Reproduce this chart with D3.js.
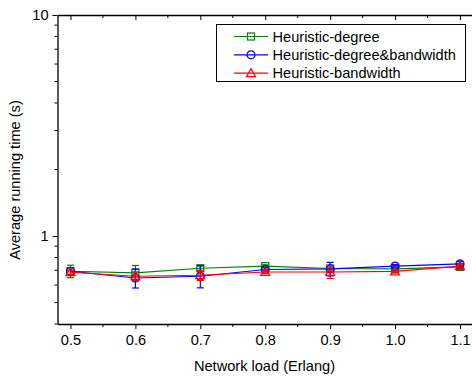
<!DOCTYPE html>
<html><head><meta charset="utf-8">
<script src="https://cdn.jsdelivr.net/npm/d3@7"></script>
<style>body{margin:0;background:#fff}svg{display:block}text{font-family:"Liberation Sans",Arial,sans-serif}</style>
</head><body>
<svg id="c" width="472" height="377"></svg>
<script>
const loads = [0.5, 0.6, 0.7, 0.8, 0.9, 1.0, 1.1];
const xTickLabels = ["0.5","0.6","0.7","0.8","0.9","1.0","1.1"];
const yTickValues = [1, 10];
const seriesNames = ["Heuristic-degree", "Heuristic-degree&bandwidth", "Heuristic-bandwidth"];
const seriesColors = ["#008000", "#0000ff", "#ff0000"];
const seriesMarkers = ["square", "circle", "triangle"];
const degreeVals = [0.693, 0.681, 0.715, 0.731, 0.713, 0.710, 0.725];
const degreeErr  = [0.045, 0.055, 0.020, 0.010, 0.010, 0.010, 0.012];
const bothVals   = [0.693, 0.646, 0.658, 0.706, 0.710, 0.731, 0.748];
const bothErr    = [0.025, 0.064, 0.075, 0.012, 0.050, 0.012, 0.020];
const bwVals     = [0.686, 0.658, 0.665, 0.688, 0.688, 0.692, 0.731];
const bwErr      = [0.015, 0.030, 0.035, 0.012, 0.045, 0.012, 0.015];

const vals = [degreeVals, bothVals, bwVals];
const errs = [degreeErr, bothErr, bwErr];

const FS = 14.6;
const svg = d3.select("#c");
const L = 57.5, R = 473, T = 15, B = 324;
const x = d3.scaleLinear().domain([0.48, 1.12]).range([L, R]);
const y = d3.scaleLog().domain([0.4, 10]).range([B, T]);

const minorY = [];
for (let d = 0.1; d < 10; d *= 10) for (let k = 1; k <= 9; k++) { const v = +(k*d).toFixed(3); if (v >= 0.4 && v <= 10 && v !== 1 && v !== 10) minorY.push(v); }
const minorX = [0.55,0.65,0.75,0.85,0.95,1.05];

const g = svg.append("g");
const xb = g.append("g").attr("transform",`translate(0,${B})`)
  .call(d3.axisBottom(x).tickValues(loads).tickFormat((d,i)=>xTickLabels[i]).tickSize(5).tickSizeOuter(0).tickPadding(6));
xb.append("g").selectAll("line").data(minorX).join("line").attr("x1",d=>x(d)).attr("x2",d=>x(d)).attr("y1",0).attr("y2",3).attr("stroke","#000");
const xt = g.append("g").attr("transform",`translate(0,${T})`)
  .call(d3.axisTop(x).tickValues(loads).tickFormat("").tickSize(-5).tickSizeOuter(0));
xt.append("g").selectAll("line").data(minorX).join("line").attr("x1",d=>x(d)).attr("x2",d=>x(d)).attr("y1",0).attr("y2",3).attr("stroke","#000");
const yl = g.append("g").attr("transform",`translate(${L},0)`)
  .call(d3.axisLeft(y).tickValues(yTickValues).tickFormat(d3.format("d")).tickSize(5).tickSizeOuter(0).tickPadding(4));
yl.append("g").selectAll("line").data(minorY).join("line").attr("y1",d=>y(d)).attr("y2",d=>y(d)).attr("x1",0).attr("x2",-3).attr("stroke","#000");

[xb, xt, yl].forEach(a=>{
  a.select(".domain").attr("stroke","#000").attr("stroke-width",1.3);
  a.selectAll(".tick line").attr("stroke","#000").attr("stroke-width",1);
  a.selectAll("text").attr("font-size",FS).attr("fill","#000").attr("font-family","Liberation Sans, Arial, sans-serif");
});

svg.append("text").attr("x",264.5).attr("y",371).attr("text-anchor","middle").attr("font-size",FS).text("Network load (Erlang)");
svg.append("text").attr("transform","translate(20,180) rotate(-90)").attr("text-anchor","middle").attr("font-size",FS).text("Average running time (s)");

const line = d3.line().x((d,i)=>x(loads[i])).y(d=>y(d));
function marker(sel, type, color) {
  if (type === "square") sel.append("rect").attr("x",-3.5).attr("y",-3.5).attr("width",7).attr("height",7).attr("fill","none").attr("stroke",color).attr("stroke-width",1.2);
  else if (type === "circle") sel.append("circle").attr("r",4).attr("fill","none").attr("stroke",color).attr("stroke-width",1.2);
  else sel.append("path").attr("d","M0,-4.5L4.5,3.5L-4.5,3.5Z").attr("fill","none").attr("stroke",color).attr("stroke-width",1.2);
}

vals.forEach((sv, s) => {
  const c = seriesColors[s];
  const sg = svg.append("g");
  sg.append("path").datum(sv).attr("d",line).attr("fill","none").attr("stroke",c).attr("stroke-width",1.1);
  sv.forEach((v,i)=>{
    const e = errs[s][i], cx = x(loads[i]);
    const eg = sg.append("g").attr("stroke",c).attr("stroke-width",1.2);
    eg.append("line").attr("x1",cx).attr("x2",cx).attr("y1",y(v-e)).attr("y2",y(v+e));
    eg.append("line").attr("x1",cx-3.5).attr("x2",cx+3.5).attr("y1",y(v-e)).attr("y2",y(v-e));
    eg.append("line").attr("x1",cx-3.5).attr("x2",cx+3.5).attr("y1",y(v+e)).attr("y2",y(v+e));
    const m = sg.append("g").attr("transform",`translate(${cx},${y(v)})`);
    marker(m, seriesMarkers[s], c);
  });
});

const lg = svg.append("g");
lg.append("rect").attr("x",216.5).attr("y",24.5).attr("width",249).attr("height",57).attr("fill","#fff").attr("stroke","#000").attr("stroke-width",1);
seriesNames.forEach((n,i)=>{
  const yy = 36.5 + i*18.3;
  lg.append("line").attr("x1",234).attr("x2",268).attr("y1",yy).attr("y2",yy).attr("stroke",seriesColors[i]).attr("stroke-width",1.2);
  const m = lg.append("g").attr("transform",`translate(251,${yy})`);
  marker(m, seriesMarkers[i], seriesColors[i]);
  lg.append("text").attr("x",272.5).attr("y",yy+5).attr("font-size",FS).text(n);
});
</script>
</body></html>
